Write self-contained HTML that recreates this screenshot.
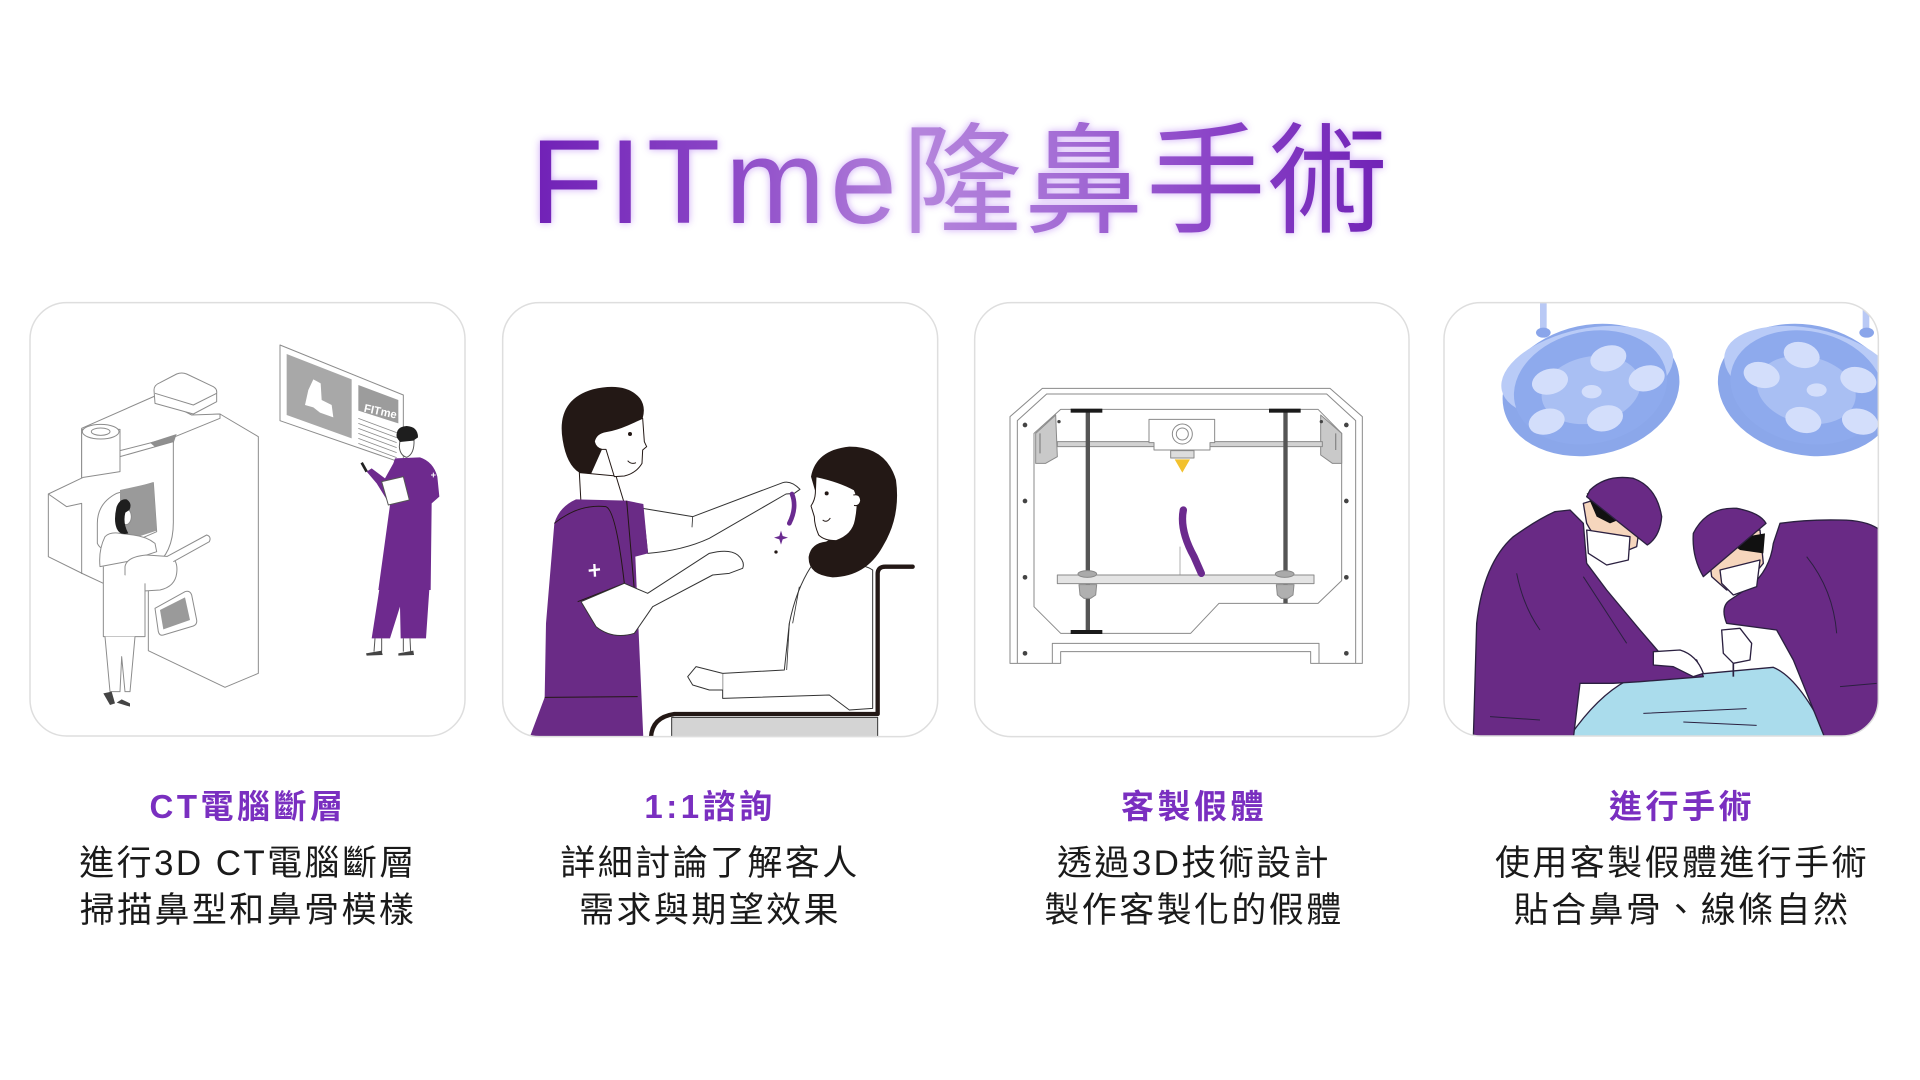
<!DOCTYPE html>
<html><head><meta charset="utf-8">
<style>
html,body{margin:0;padding:0;background:#fff;}
body{width:1920px;height:1080px;position:relative;overflow:hidden;font-family:"Liberation Sans","Noto Sans CJK TC",sans-serif;}
.tw{position:absolute;left:0;top:122px;width:1920px;text-align:center;}
.title{display:inline-block;font-family:"Liberation Sans","Noto Sans CJK TC",sans-serif;font-size:120px;line-height:120px;
 background:linear-gradient(90deg,#7020b6 0%,#8a45c6 22%,#b585dc 45%,#a46dd5 62%,#8a42c7 80%,#7022b6 100%);
 -webkit-background-clip:text;background-clip:text;color:transparent;-webkit-text-fill-color:transparent;
 filter:drop-shadow(0 0 4px rgba(200,160,245,0.9));}
.lat{letter-spacing:5px;}
.cjk{letter-spacing:2px;}
.col{position:absolute;width:460px;text-align:center;}
.h{position:absolute;top:787px;font-size:33px;line-height:40px;font-weight:bold;color:#7a2fc0;letter-spacing:3.5px;white-space:nowrap;}
.b{position:absolute;top:840px;font-size:35px;line-height:47px;color:#1a1a1a;letter-spacing:2.4px;white-space:nowrap;}
svg{position:absolute;}
</style></head>
<body>
<div class="tw"><span class="title"><span class="lat">FITme</span><span class="cjk">隆鼻手術</span></span></div>

<!-- Card 1 -->
<svg style="left:20px;top:290px" width="460" height="460" viewBox="0 0 1380 1380">
<defs><clipPath id="c1"><rect x="30" y="38" width="1305" height="1300" rx="110"/></clipPath></defs>
<g clip-path="url(#c1)" stroke="#8c8c8c" stroke-width="3" stroke-linejoin="round" fill="#fff">
 <path d="M480,380 L600,372 L715,440 L715,1150 L615,1192 L385,1082 L385,700 Z"/>
 <path d="M185,415 L405,318 L515,375 L600,372 L600,385 L465,440 L300,482 L300,590 L185,590 Z"/>
 <path d="M402,300 Q402,285 420,278 L470,252 Q485,246 500,252 L580,290 Q592,297 590,310 L590,335 L520,372 L405,340 Z"/>
 <path d="M405,310 L520,345 L590,310" fill="none"/>
 <rect x="185" y="418" width="115" height="172"/>
 <ellipse cx="242" cy="425" rx="55" ry="22"/>
 <ellipse cx="242" cy="425" rx="28" ry="11"/>
 <path d="M390,458 L470,432 L445,505 Z" fill="#8f8f8f" stroke="none"/>
 <path d="M85,612 L190,562 L300,545 L300,500 L460,455 L460,690 Q462,790 400,830 L250,880 L190,852 L85,800 Z"/>
 <path d="M85,612 L140,650 L185,640 L185,852" fill="none"/>
 <path d="M232,700 Q232,640 290,610 L400,578 L410,725 L330,760 Q250,800 232,760 Z"/>
 <path d="M300,600 L400,578 L410,722 L300,758 Z" fill="#9a9a9a" stroke="none"/>
 <path d="M255,740 Q270,725 300,730 L340,735 Q380,740 405,760 L410,785 L320,815 L240,830 Q235,780 255,740 Z"/>
 <ellipse cx="318" cy="680" rx="16" ry="24"/>
 <path d="M290,650 Q300,625 320,628 Q338,640 328,660 L316,668 Q308,700 325,730 Q300,738 290,715 Q280,690 290,650 Z" fill="#1e1e1e" stroke="none"/>
 <path d="M315,830 Q320,800 380,795 L450,800 Q475,810 470,850 Q465,890 420,900 L340,905 Q315,895 315,860 Z"/>
 <path d="M440,800 L560,735 Q575,740 568,755 L460,815"/>
 <path d="M250,830 L250,1040 L375,1040 L375,880"/>
 <path d="M405,955 L495,905 Q510,900 515,915 L530,990 Q532,1003 520,1008 L430,1035 Q418,1038 415,1025 Z"/>
 <path d="M420,960 L495,922 L510,990 L430,1018 Z" fill="#9a9a9a" stroke="none"/>
 <path d="M255,1040 L270,1205 L300,1205 L305,1100 L315,1205 L330,1205 L345,1040"/>
 <path d="M250,1210 L270,1245 L285,1240 L275,1205 Z" fill="#444" stroke="none"/>
 <path d="M290,1238 L330,1250 L330,1240 L305,1228 Z" fill="#444" stroke="none"/>
 <!-- panel -->
 <path d="M780,165 L1150,315 L1150,520 L780,392 Z"/>
 <path d="M800,192 L995,268 L995,445 L800,375 Z" fill="#a8a8a8" stroke="none"/>
 <path d="M880,268 L902,280 L905,330 L935,345 L940,382 L900,368 L880,352 L855,345 L865,300 Z" fill="#fff" stroke="none"/>
 <path d="M1015,285 L1135,330 L1135,400 L1015,362 Z" fill="#9c9c9c" stroke="none"/>
 <text x="1030" y="365" font-size="34" font-weight="bold" fill="#fff" stroke="none" font-family="Liberation Sans, sans-serif" transform="rotate(12 1030 365)">FITme</text>
 <g stroke="#8c8c8c" stroke-width="2.5">
  <path d="M1015,385 L1130,428 M1015,400 L1130,443 M1015,415 L1130,458 M1015,430 L1130,473 M1015,445 L1130,488 M1015,460 L1130,503" fill="none"/>
 </g>
 <!-- doctor -->
 <path d="M1140,450 L1182,448 Q1184,492 1160,502 Q1140,496 1138,470 Z" stroke="#555"/>
 <path d="M1130,442 Q1126,410 1160,408 Q1194,410 1194,442 L1180,452 L1140,456 Z" fill="#1e1e1e" stroke="none"/>
 <path d="M1125,505 L1200,502 Q1240,515 1252,560 L1258,620 L1235,640 L1232,900 L1075,900 L1110,645 L1070,580 L1040,545 L1055,535 L1095,565 L1120,520 Z" fill="#6e2a8e" stroke="none"/>
 <path d="M1085,575 L1150,560 L1168,630 L1105,645 Z" stroke="#555"/>
 <path d="M1025,518 L1040,545" stroke="#222" stroke-width="8" fill="none"/>
 <path d="M1078,898 L1228,898 L1218,1045 L1142,1045 L1140,950 L1110,1045 L1055,1045 Z" fill="#6e2a8e" stroke="none"/>
 <path d="M1065,1045 L1062,1085 M1085,1045 L1085,1085 M1150,1045 L1150,1085 M1170,1045 L1172,1085" fill="none" stroke="#555"/>
 <path d="M1038,1090 L1085,1082 L1088,1095 L1040,1097 Z" fill="#444" stroke="none"/>
 <path d="M1135,1090 L1180,1082 L1182,1095 L1135,1097 Z" fill="#444" stroke="none"/>
 <path d="M1233,555 L1247,555 M1240,548 L1240,562" stroke="#fff" stroke-width="3" fill="none"/>
</g>
<rect x="30" y="38" width="1305" height="1300" rx="110" fill="none" stroke="#dedede" stroke-width="4.5"/>
</svg>

<!-- Card 2 -->
<svg style="left:496px;top:290px" width="460" height="460" viewBox="0 0 1380 1380">
<defs><clipPath id="c2"><rect x="20" y="38" width="1305" height="1302" rx="110"/></clipPath></defs>
<g clip-path="url(#c2)" stroke-linejoin="round">
 <rect x="527" y="1282" width="618" height="70" fill="#d4d4d4" stroke="#333" stroke-width="3"/>
 <path d="M945,830 Q900,900 880,1000 L865,1140 L680,1150 L680,1225 L1000,1215 L1060,1260 L1130,1255 L1130,840 Q1100,820 1060,830 Z" fill="#fff" stroke="#333" stroke-width="3"/>
 <path d="M680,1150 L600,1130 L575,1160 L590,1185 L640,1200 L680,1200" fill="#fff" stroke="#333" stroke-width="3"/>
 <path d="M880,1000 L872,1140 M910,890 L890,1000" fill="none" stroke="#333" stroke-width="2.5"/>
 <path d="M465,1342 Q468,1282 535,1272 L1145,1272 L1145,852 Q1145,830 1168,830 L1250,830" fill="none" stroke="#231815" stroke-width="13" stroke-linecap="round"/>
 <path d="M945,560 Q960,480 1060,470 Q1170,470 1200,570 Q1215,680 1160,770 Q1110,860 1010,862 Q935,855 938,800 Q945,760 990,755 L1000,750 Z" fill="#231815"/>
 <path d="M960,560 Q1030,575 1075,600 Q1090,630 1078,690 Q1070,735 1020,752 Q985,752 968,735 Q955,705 955,680 L945,648 Q957,630 958,610 Z" fill="#fff" stroke="#231815" stroke-width="3"/>
 <circle cx="992" cy="610" r="6" fill="#231815"/>
 <path d="M980,690 Q992,700 1003,684" fill="none" stroke="#231815" stroke-width="3"/>
 <path d="M1072,615 Q1092,610 1094,632 Q1090,650 1074,646" fill="#fff" stroke="#231815" stroke-width="3"/>
 <!-- nurse -->
 <path d="M250,548 L255,640 L385,640 L360,558 Z" fill="#fff" stroke="#231815" stroke-width="3"/>
 <path d="M200,450 Q180,330 290,298 Q390,275 432,325 Q450,350 440,385 L395,405 Q360,420 330,425 Q300,430 295,455 Q300,475 318,478 L285,552 L250,548 Q212,525 200,450 Z" fill="#231815"/>
 <path d="M440,385 L445,455 L452,470 L440,480 L438,520 Q420,550 385,558 L355,560 L330,478 L318,478 Q300,475 295,455 Q300,430 330,425 Q360,420 395,405 Z" fill="#fff" stroke="#231815" stroke-width="3"/>
 <circle cx="402" cy="432" r="6" fill="#231815"/>
 <path d="M395,512 Q405,524 420,518" fill="none" stroke="#231815" stroke-width="3"/>
 <path d="M440,655 L590,680 L860,578 Q885,570 912,598 L895,610 L870,612 L640,745 Q560,782 455,790 Z" fill="#fff" stroke="#333" stroke-width="3"/>
 <path d="M590,680 L588,712" fill="none" stroke="#333" stroke-width="2.5"/>
 <path d="M240,628 L392,632 L442,642 L456,790 L418,800 L425,960 L442,1345 L100,1345 L146,1222 L150,1000 L175,700 Q190,650 240,628 Z" fill="#6a2b86"/>
 <path d="M175,700 Q250,640 330,650 Q360,662 385,880 M245,935 L385,880 M146,1222 L425,1220 M392,632 L420,960" fill="none" stroke="#231815" stroke-width="3"/>
 <path d="M278,842 L312,838 M295,822 L297,860" stroke="#fff" stroke-width="7" fill="none"/>
 <path d="M255,935 L385,880 L455,910 L640,790 Q700,775 725,795 Q748,815 740,835 L700,850 L650,855 L470,950 L415,1030 Q350,1050 300,1010 Z" fill="#fff" stroke="#333" stroke-width="3"/>
 <path d="M888,612 Q904,652 880,700" fill="none" stroke="#6a2b90" stroke-width="14" stroke-linecap="round"/>
 <path d="M855,722 L860,738 L876,743 L860,748 L855,764 L850,748 L834,743 L850,738 Z" fill="#6a2b90"/>
 <circle cx="840" cy="786" r="5" fill="#231815"/>
</g>
<rect x="20" y="38" width="1305" height="1302" rx="110" fill="none" stroke="#dedede" stroke-width="4.5"/>
</svg>

<!-- Card 3 -->
<svg style="left:964px;top:290px" width="460" height="460" viewBox="0 0 1380 1380">
<rect x="32" y="38" width="1303" height="1302" rx="110" fill="#fff" stroke="#dedede" stroke-width="4.5"/>
<g fill="none" stroke="#8a8a8a" stroke-width="3" stroke-linejoin="round">
 <path d="M138,1120 L138,380 L235,295 L1098,295 L1195,380 L1195,1120 L1040,1120 L1040,1085 L290,1085 L290,1120 Z"/>
 <path d="M160,1120 L160,392 L248,312 L1088,312 L1175,392 L1175,1120"/>
 <path d="M265,1120 L265,1060 L1065,1060 L1065,1120"/>
 <path d="M210,950 L210,430 L290,358 L1062,358 L1133,430 L1133,872 L1062,940 L765,940 L680,1030 L290,1030 Z"/>
 <path d="M215,430 L275,375 L280,500 L245,520 L215,520 Z" fill="#c9c9c9"/>
 <path d="M1070,375 L1133,430 L1133,520 L1105,520 L1070,495 Z" fill="#c9c9c9"/>
 <path d="M228,430 L228,490 M1115,430 L1115,480" stroke-width="4"/>
 <rect x="280" y="455" width="795" height="15" fill="#d2d2d2"/>
 <rect x="365" y="360" width="13" height="670" fill="#555" stroke="none"/>
 <rect x="958" y="360" width="13" height="580" fill="#555" stroke="none"/>
 <rect x="320" y="356" width="95" height="12" fill="#1a1a1a" stroke="none"/>
 <rect x="320" y="1020" width="95" height="12" fill="#1a1a1a" stroke="none"/>
 <rect x="915" y="356" width="95" height="12" fill="#1a1a1a" stroke="none"/>
 <path d="M555,388 L752,388 L752,458 L738,458 L738,480 L570,480 L570,458 L555,458 Z" fill="#fff"/>
 <circle cx="655" cy="432" r="30" fill="#fff"/>
 <circle cx="655" cy="432" r="18"/>
 <rect x="620" y="482" width="70" height="22" fill="#ddd"/>
 <path d="M632,508 L678,508 L655,548 Z" fill="#f2c12e" stroke="none"/>
 <path d="M648,770 L648,855 M630,855 L720,855" stroke-width="2"/>
 <rect x="280" y="855" width="770" height="26" fill="#e4e4e4"/>
 <ellipse cx="370" cy="852" rx="28" ry="10" fill="#aaa"/>
 <ellipse cx="962" cy="852" rx="28" ry="10" fill="#aaa"/>
 <path d="M345,884 L398,884 L395,915 L380,925 L360,925 L348,915 Z" fill="#b0b0b0"/>
 <path d="M937,884 L990,884 L987,915 L972,925 L952,925 L940,915 Z" fill="#b0b0b0"/>
</g>
<path d="M658,660 Q646,720 690,800 L712,850" fill="none" stroke="#6b2a8e" stroke-width="22" stroke-linecap="round"/>
<g fill="#444">
 <circle cx="183" cy="405" r="7"/><circle cx="183" cy="633" r="7"/><circle cx="183" cy="862" r="7"/><circle cx="183" cy="1090" r="7"/>
 <circle cx="1147" cy="405" r="7"/><circle cx="1147" cy="633" r="7"/><circle cx="1147" cy="862" r="7"/><circle cx="1147" cy="1090" r="7"/>
 <circle cx="285" cy="395" r="5"/><circle cx="1072" cy="395" r="5"/>
</g>
</svg>

<!-- Card 4 -->
<svg style="left:1440px;top:290px" width="460" height="460" viewBox="0 0 1380 1380">
<defs><clipPath id="c4"><rect x="12" y="38" width="1303" height="1300" rx="110"/></clipPath></defs>
<g clip-path="url(#c4)">
 <rect x="300" y="30" width="20" height="95" fill="#b9c9f5"/>
 <ellipse cx="310" cy="128" rx="22" ry="15" fill="#8aa5ea"/>
 <rect x="1268" y="30" width="20" height="95" fill="#b9c9f5"/>
 <ellipse cx="1280" cy="128" rx="22" ry="15" fill="#8aa5ea"/>
 <g transform="rotate(-12 452 295)">
  <ellipse cx="452" cy="300" rx="268" ry="195" fill="#8ba7ea"/>
  <ellipse cx="452" cy="245" rx="262" ry="130" fill="#b9cbf7"/>
  <ellipse cx="452" cy="292" rx="232" ry="168" fill="#8eaaed"/>
  <ellipse cx="452" cy="300" rx="150" ry="100" fill="#a9bff3"/>
 </g>
 <g fill="#d3defb">
  <ellipse cx="505" cy="205" rx="55" ry="38" transform="rotate(-15 505 205)"/>
  <ellipse cx="620" cy="265" rx="55" ry="38" transform="rotate(-15 620 265)"/>
  <ellipse cx="330" cy="275" rx="55" ry="38" transform="rotate(-15 330 275)"/>
  <ellipse cx="320" cy="395" rx="55" ry="38" transform="rotate(-15 320 395)"/>
  <ellipse cx="495" cy="385" rx="55" ry="38" transform="rotate(-15 495 385)"/>
  <ellipse cx="455" cy="305" rx="30" ry="20"/>
 </g>
 <g transform="rotate(12 1100 295)">
  <ellipse cx="1100" cy="300" rx="268" ry="195" fill="#8ba7ea"/>
  <ellipse cx="1100" cy="245" rx="262" ry="130" fill="#b9cbf7"/>
  <ellipse cx="1100" cy="292" rx="232" ry="168" fill="#8eaaed"/>
  <ellipse cx="1100" cy="300" rx="150" ry="100" fill="#a9bff3"/>
 </g>
 <g fill="#d3defb">
  <ellipse cx="1085" cy="195" rx="55" ry="38" transform="rotate(15 1085 195)"/>
  <ellipse cx="1255" cy="270" rx="55" ry="38" transform="rotate(15 1255 270)"/>
  <ellipse cx="965" cy="255" rx="55" ry="38" transform="rotate(15 965 255)"/>
  <ellipse cx="1090" cy="390" rx="55" ry="38" transform="rotate(15 1090 390)"/>
  <ellipse cx="1260" cy="395" rx="55" ry="38" transform="rotate(15 1260 395)"/>
  <ellipse cx="1130" cy="300" rx="30" ry="20"/>
 </g>
 <g stroke="#2b2040" stroke-width="4" stroke-linejoin="round">
  <path d="M385,1345 Q470,1220 560,1172 L1000,1132 Q1080,1165 1165,1345 Z" fill="#aadcec"/>
  <path d="M610,1270 L920,1256 M730,1296 L950,1306" fill="none" stroke-width="3"/>
  <path d="M100,1345 L110,1000 Q130,820 220,740 Q290,690 345,665 L390,660 L430,700 L440,820 L500,900 L600,1020 L660,1090 L700,1090 L770,1110 L790,1160 L600,1175 L520,1180 L420,1180 L400,1345 Z" fill="#692a85"/>
  <path d="M230,850 Q250,950 300,1020 M430,860 L560,1060 M150,1280 L300,1290" fill="none" stroke-width="3"/>
  <path d="M430,640 L560,600 L600,700 L590,770 L540,790 Q470,760 440,700 Z" fill="#f6d6bd"/>
  <path d="M440,610 L540,600 L560,680 L510,700 L470,680 Z" fill="#111" stroke="none"/>
  <path d="M440,720 L570,740 L565,810 L500,825 L445,790 Z" fill="#fff"/>
  <path d="M450,600 Q500,552 580,565 Q650,590 665,680 Q660,740 622,765 L440,620 Z" fill="#692a85"/>
  <path d="M640,1085 L720,1080 Q770,1095 790,1150 L760,1160 L700,1130 L640,1125 Z" fill="#fff"/>
  <path d="M1320,700 L1320,1345 L1155,1345 L1060,1110 L1010,1020 L860,1000 Q840,950 870,930 L930,890 Q990,840 1000,760 L1020,700 Q1100,688 1200,690 Q1280,690 1320,720 Z" fill="#692a85"/>
  <path d="M800,740 L960,720 L970,820 L920,880 L860,900 L815,860 Z" fill="#f6d6bd"/>
  <path d="M860,750 L975,730 L970,790 L900,780 Z" fill="#111" stroke="none"/>
  <path d="M840,840 L960,810 L950,890 L880,915 L845,880 Z" fill="#fff"/>
  <path d="M760,730 Q800,650 890,655 Q960,668 978,700 L790,860 Q755,800 760,730 Z" fill="#692a85"/>
  <path d="M1100,800 Q1180,900 1190,1030 M1200,1190 L1310,1180" fill="none" stroke-width="3"/>
  <path d="M845,1020 L900,1015 L935,1060 L930,1110 L880,1120 L850,1090 Z" fill="#fff"/>
  <path d="M880,1120 L880,1160" stroke-width="5"/>
 </g>
</g>
<rect x="12" y="38" width="1303" height="1300" rx="110" fill="none" stroke="#dedede" stroke-width="4.5"/>
</svg>

<!-- Text columns -->
<div class="col" style="left:18px"><div class="h" style="left:0;width:460px">CT電腦斷層</div><div class="b" style="left:0;width:460px">進行3D CT電腦斷層<br>掃描鼻型和鼻骨模樣</div></div>
<div class="col" style="left:480px"><div class="h" style="left:0;width:460px">1:1諮詢</div><div class="b" style="left:0;width:460px">詳細討論了解客人<br>需求與期望效果</div></div>
<div class="col" style="left:964px"><div class="h" style="left:0;width:460px">客製假體</div><div class="b" style="left:0;width:460px">透過3D技術設計<br>製作客製化的假體</div></div>
<div class="col" style="left:1452px"><div class="h" style="left:0;width:460px">進行手術</div><div class="b" style="left:0;width:460px">使用客製假體進行手術<br>貼合鼻骨、線條自然</div></div>
</body></html>
